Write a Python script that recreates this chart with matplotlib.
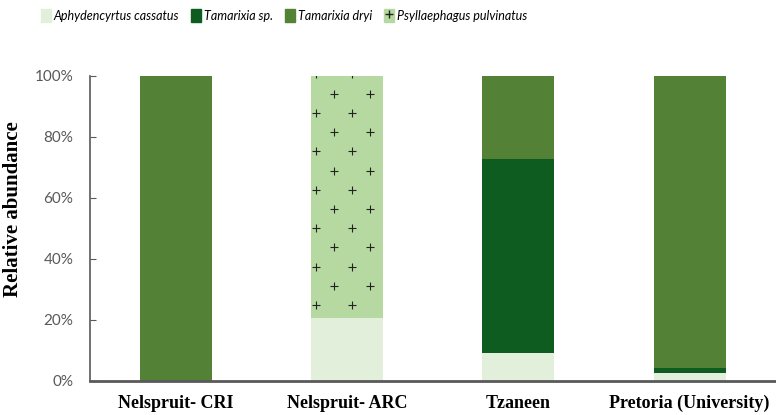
import numpy as np
import matplotlib.pyplot as plt
from matplotlib.patches import Patch
from matplotlib.lines import Line2D
from matplotlib.ticker import PercentFormatter

# -------------------------------
# Data (relative abundance, %)
# -------------------------------
sites = ['Nelspruit- CRI', 'Nelspruit- ARC', 'Tzaneen', 'Pretoria (University)']
aphydencyrtus = [0, 20.7, 9.2, 2.6]
tamarixia_sp = [0, 0, 63.6, 1.6]
tamarixia_dryi = [100, 0, 27.2, 95.8]
psyllaephagus = [0, 79.3, 0, 0]

series_names = ['Aphydencyrtus cassatus', 'Tamarixia sp.', 'Tamarixia dryi', 'Psyllaephagus pulvinatus']
colors = ['#E2EFDA', '#0F5C21', '#538135', '#B6D9A2']

fig = plt.figure(figsize=(7.76, 4.15), dpi=100)
ax = fig.add_axes([0.116, 0.082, 0.883, 0.735])

x = np.arange(len(sites))
width = 0.42
bottom = np.zeros(len(sites))
containers = []
for vals, col in zip([aphydencyrtus, tamarixia_sp, tamarixia_dryi, psyllaephagus], colors):
    bars = ax.bar(x, vals, width, bottom=bottom, color=col, linewidth=0)
    containers.append(bars)
    bottom += np.array(vals)

# plus-sign pattern on the Psyllaephagus segments
for rect in containers[3]:
    h = rect.get_height()
    if h <= 0:
        continue
    x0, y0, w = rect.get_x(), rect.get_y(), rect.get_width()
    ys = np.arange(y0 + 4.2, y0 + h + 1, 6.3)
    px, py = [], []
    for i, yy in enumerate(ys):
        start = x0 + 0.032 + (0.1 if i % 2 else 0)
        for xx in np.arange(start, x0 + w, 0.21):
            px.append(xx)
            py.append(yy)
    pts = ax.scatter(px, py, marker='+', s=36, color='#222222', linewidths=0.8, zorder=3)
    pts.set_clip_path(rect)

ax.set_xlim(-0.5, 3.5)
ax.set_ylim(0, 100)
ax.set_yticks([0, 20, 40, 60, 80, 100])
ax.yaxis.set_major_formatter(PercentFormatter(decimals=0))
ax.set_xticks(x)
ax.set_xticklabels(sites, fontfamily='Liberation Serif', fontweight='bold', fontsize=13)
ax.tick_params(axis='x', length=0, pad=10)
ax.tick_params(axis='y', direction='in', length=4, color='#595959', labelcolor='#595959',
               labelsize=11, pad=12)
for lab in ax.get_yticklabels():
    lab.set_fontfamily('Lato')

ax.set_ylabel('Relative abundance', fontfamily='Liberation Serif', fontweight='bold',
              fontsize=15)
ax.yaxis.set_label_coords(-0.098, 0.564)

for s in ['top', 'right']:
    ax.spines[s].set_visible(False)
ax.spines['left'].set_color('#595959')
ax.spines['left'].set_linewidth(1.2)
ax.spines['bottom'].set_color('#595959')
ax.spines['bottom'].set_linewidth(2)

# legend
handles = [Patch(color=colors[0]), Patch(color=colors[1]), Patch(color=colors[2]),
           (Patch(color=colors[3]),
            Line2D([], [], marker='+', color='#222222', linestyle='none', markersize=6))]
fig.legend(handles, series_names, loc='upper left', bbox_to_anchor=(0.038, 1.006), ncol=4,
           frameon=False, handlelength=0.8, handleheight=1.3, handletextpad=0.2,
           columnspacing=1.0,
           prop={'family': 'Lato', 'style': 'italic', 'size': 9})

plt.savefig('out.png', dpi=100)
